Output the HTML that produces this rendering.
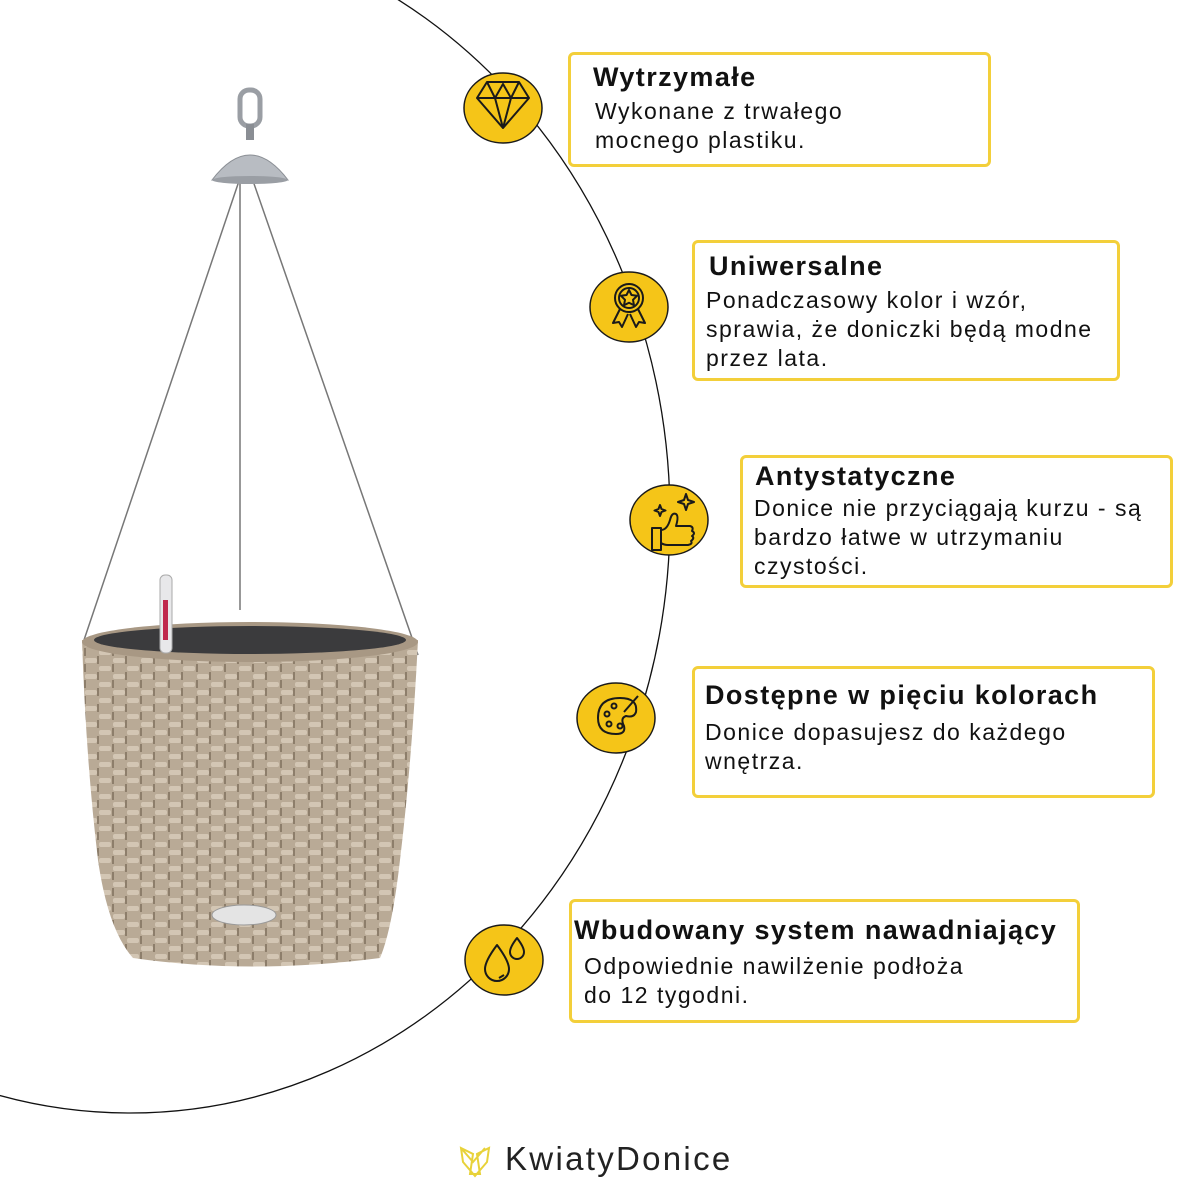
<!DOCTYPE html>
<html><head><meta charset="utf-8"><style>
body{margin:0;width:1200px;height:1200px;background:#fff;position:relative;overflow:hidden;font-family:"Liberation Sans",sans-serif;color:#111}
.box{position:absolute;border:3px solid #f3cf3a;border-radius:6px;box-sizing:border-box;background:#fff}
.box b{position:absolute;font-size:27px;font-weight:bold;white-space:nowrap;letter-spacing:1.4px}
.box p{position:absolute;margin:0;font-size:23px;line-height:29px;white-space:nowrap;letter-spacing:1.5px}
svg{position:absolute;left:0;top:0}
</style></head><body>
<svg width="1200" height="1200" viewBox="0 0 1200 1200">
<defs>
<pattern id="weave" width="28" height="16" patternUnits="userSpaceOnUse">
<rect width="28" height="16" fill="#b9aa96"/>
<rect x="1" y="2" width="12" height="5" rx="2" fill="#d3c6b4"/>
<rect x="15" y="10" width="12" height="5" rx="2" fill="#d3c6b4"/>
<rect x="13" y="0" width="2" height="8" fill="#8d7e6b"/>
<rect x="0" y="8" width="2" height="8" fill="#8d7e6b"/>
</pattern>
</defs>
<ellipse cx="130" cy="517" rx="540" ry="596" fill="none" stroke="#111" stroke-width="1.3"/>
<line x1="240" y1="178" x2="84" y2="640" stroke="#777" stroke-width="1.5"/>
<line x1="240" y1="178" x2="240" y2="610" stroke="#777" stroke-width="1.5"/>
<line x1="252" y1="178" x2="418" y2="655" stroke="#777" stroke-width="1.5"/>
<rect x="240" y="90" width="20" height="36" rx="9" fill="none" stroke="#9a9ea4" stroke-width="5"/>
<rect x="246" y="124" width="8" height="16" fill="#8a8e94"/>
<path d="M212 180 Q250 130 288 180 Z" fill="#b8bcc2" stroke="#8b8f95"/>
<ellipse cx="250" cy="180" rx="38" ry="4" fill="#9a9ea4"/>
<path d="M82 640 L418 640 Q412 760 400 860 Q392 930 380 958 Q250 975 133 958 Q108 930 98 860 Q86 760 82 640 Z" fill="url(#weave)"/>
<ellipse cx="250" cy="642" rx="168" ry="20" fill="#a89884"/>
<ellipse cx="250" cy="640" rx="156" ry="14" fill="#3b3b3d"/>
<rect x="160" y="575" width="12" height="78" rx="5" fill="#e8e8ea" stroke="#aaa"/>
<rect x="163" y="600" width="5" height="40" fill="#c0294d"/>
<ellipse cx="244" cy="915" rx="32" ry="10" fill="#e4e4e4" stroke="#999"/>
<g stroke="#1a1a1a" stroke-width="1.5" fill="#f5c518">
<ellipse cx="503" cy="108" rx="39" ry="35"/>
<ellipse cx="629" cy="307" rx="39" ry="35"/>
<ellipse cx="669" cy="520" rx="39" ry="35"/>
<ellipse cx="616" cy="718" rx="39" ry="35"/>
<ellipse cx="504" cy="960" rx="39" ry="35"/>
</g>
<g stroke="#1a1a1a" stroke-width="2" fill="none" stroke-linejoin="round">
<path d="M477 98 L487 82 L519 82 L529 98 L503 128 Z M477 98 L529 98 M487 82 L495 98 L503 128 L511 98 L519 82 M495 98 L503 84 L511 98"/>
<circle cx="629" cy="298" r="14"/><circle cx="629" cy="298" r="10"/>
<path d="M629 290 l2.5 5 5.5 .8 -4 4 1 5.5 -5-2.6 -5 2.6 1-5.5 -4-4 5.5-.8z"/>
<path d="M620 309 l-7 14 6-1 3 5 6-13 M638 309 l7 14 -6-1 -3 5 -6-13"/>
<path d="M652 528 h9 v22 h-9 z M661 530 q6 0 9-10 q2-8 6-6 q3 2 0 12 h14 q4 1 2 5 q4 2 0 5 q3 2 -1 5 q2 3 -3 4 h-20 q-4 0 -7-2"/>
<path d="M686 494 l2 6 6 2 -6 2 -2 6 -2-6 -6-2 6-2z M660 505 l1.5 4 4 1.5 -4 1.5 -1.5 4 -1.5-4 -4-1.5 4-1.5z"/>
<path d="M598 718 q0-20 22-20 q18 0 16 14 q-2 6 -10 4 q-6 2 -2 10 q2 8 -8 8 q-18 0 -18-16z"/>
<circle cx="607" cy="714" r="2.5"/><circle cx="614" cy="706" r="2.5"/><circle cx="609" cy="724" r="2.5"/><circle cx="620" cy="726" r="2.5"/>
<path d="M624 712 l14-16"/>
<path d="M497 945 q-12 16 -12 24 a12 12 0 0 0 24 0 q0-8 -12-24z M517 938 q-7 9 -7 14 a7 7 0 0 0 14 0 q0-5 -7-14z M499 978 l5-3"/>
</g>
<g stroke="#e8d23a" stroke-width="2" fill="none">
<path d="M461 1148 l12 6 l-3 20 h10 l-3-20 l12-6 l-2 14 l-12 14 l-12-14 z M461 1148 l12 14 l12-14"/>
</g>
</svg>
<div class="box" style="left:568px;top:52px;width:423px;height:115px"><b style="left:22px;top:7px">Wytrzymałe</b><p style="left:24px;top:42px">Wykonane z trwałego<br>mocnego plastiku.</p></div>
<div class="box" style="left:692px;top:240px;width:428px;height:141px"><b style="left:14px;top:8px">Uniwersalne</b><p style="left:11px;top:43px">Ponadczasowy kolor i wzór,<br>sprawia, że doniczki będą modne<br>przez lata.</p></div>
<div class="box" style="left:740px;top:455px;width:433px;height:133px"><b style="left:12px;top:3px">Antystatyczne</b><p style="left:11px;top:36px">Donice nie przyciągają kurzu - są<br>bardzo łatwe w utrzymaniu<br>czystości.</p></div>
<div class="box" style="left:692px;top:666px;width:463px;height:132px"><b style="left:10px;top:11px">Dostępne w pięciu kolorach</b><p style="left:10px;top:49px">Donice dopasujesz do każdego<br>wnętrza.</p></div>
<div class="box" style="left:569px;top:899px;width:511px;height:124px"><b style="left:2px;top:13px">Wbudowany system nawadniający</b><p style="left:12px;top:50px">Odpowiednie nawilżenie podłoża<br>do 12 tygodni.</p></div>
<div style="position:absolute;left:505px;top:1140px;font-size:33px;color:#222;letter-spacing:2.3px">KwiatyDonice</div>
</body></html>
